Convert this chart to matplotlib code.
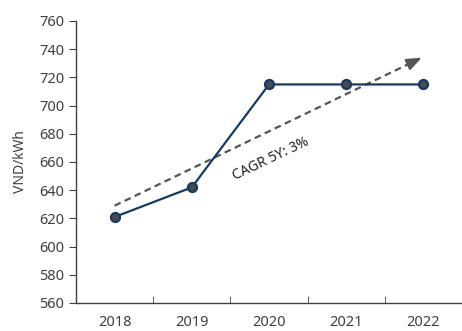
import matplotlib as mpl
mpl.use('Agg')
import matplotlib.pyplot as plt

years = ['2018', '2019', '2020', '2021', '2022']
price = [621, 642, 715, 715, 715]
trend_start = 629
trend_end = 734
cagr_label = 'CAGR 5Y: 3%'

plt.rcParams['font.family'] = ['Noto Sans', 'DejaVu Sans']

fig = plt.figure(figsize=(4.62, 3.31), dpi=100)
ax = fig.add_axes([0.1645, 0.0846, 0.8355, 0.852])

x = list(range(len(years)))
ax.plot(x, price, color='#163a64', lw=1.6, marker='o', ms=6.5,
        mfc='#4a4a4a', mec='#163a64', mew=1.6, zorder=3)

# dashed trend line, solid head
x_end = 3.98
ax.plot([0, x_end - 0.1], [trend_start, trend_end - 0.1 / x_end * (trend_end - trend_start)],
        color='#555555', lw=1.6, ls=(0, (3, 2)), zorder=2)
ax.annotate('', xy=(x_end, trend_end),
            xytext=(x_end - 0.2, trend_end - 0.2 / x_end * (trend_end - trend_start)),
            arrowprops=dict(arrowstyle='-|>,head_length=0.9,head_width=0.35',
                            color='#555555', lw=1.6, shrinkA=0, shrinkB=0),
            zorder=2)
ax.text(2.02, 662, cagr_label, rotation=25.5, ha='center', va='center',
        fontsize=10, color='#222222')

ax.set_xlim(-0.5, 4.5)
ax.set_ylim(560, 760)
ax.set_yticks(range(560, 761, 20))
ax.set_xticks(x)
ax.set_xticklabels(years)
ax.set_xticks([0.5, 1.5, 2.5, 3.5], minor=True)
ax.tick_params(axis='x', which='major', length=0, pad=9, labelsize=10.5, colors='#404040')
ax.tick_params(axis='x', which='minor', direction='in', length=5, color='#404040')
ax.tick_params(axis='y', direction='out', length=5, color='#404040', labelsize=10.5,
               labelcolor='#404040')
ax.set_ylabel('VND/kWh', fontsize=10, color='#404040', labelpad=8)

for s in ['top', 'right']:
    ax.spines[s].set_visible(False)
for s in ['left', 'bottom']:
    ax.spines[s].set_color('#404040')
    ax.spines[s].set_linewidth(1.0)

fig.savefig('out.png', dpi=100)
